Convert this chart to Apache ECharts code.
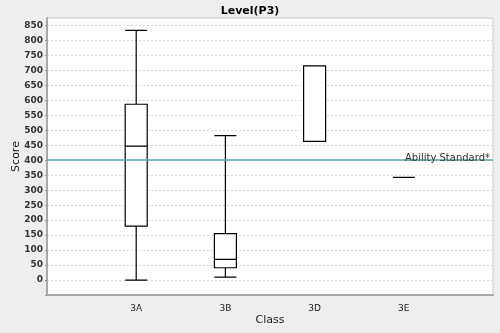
<!DOCTYPE html>
<html>
<head>
<meta charset="utf-8">
<script src="https://cdn.jsdelivr.net/npm/echarts@6/dist/echarts.min.js"></script>
<style>
  html, body { margin: 0; padding: 0; background: #eeeeee; }
  #chart { width: 500px; height: 333px; }
</style>
</head>
<body>
<div id="chart"></div>
<script>
// Classes shown on the x axis
const classes = ['3A', '3B', '3D', '3E'];
// Box statistics per class: [min, Q1, median, Q3, max]
const scoreStats = [
  [0, 180, 447, 587, 834],
  [10, 41, 69, 155, 482],
  [463, 463, 715, 715, 715],
  [343, 343, 343, 343, 343]
];
// Reference level drawn across the plot
const abilityStandard = 401;
const abilityLabel = 'Ability Standard*';

// Pad the category axis with empty slots so classes sit on inner ticks
const xCategories = [''].concat(classes, ['']);
const boxData = scoreStats.map((s, i) => [classes[i]].concat(s));

const font = 'Tahoma, "DejaVu Sans", sans-serif';
const chart = echarts.init(document.getElementById('chart'));
chart.setOption({
  backgroundColor: '#eeeeee',
  animation: false,
  title: {
    text: 'Level(P3)',
    left: 'center',
    top: 1,
    textStyle: { fontFamily: font, fontSize: 11, fontWeight: 'bold', color: '#000' }
  },
  grid: {
    left: 47, right: 7, top: 18, bottom: 38,
    outerBoundsMode: 'none',
    containLabel: false,
    show: true,
    backgroundColor: '#ffffff',
    borderColor: '#d0d0d0',
    borderWidth: 1
  },
  xAxis: {
    type: 'category',
    data: xCategories,
    boundaryGap: false,
    name: 'Class',
    nameLocation: 'middle',
    nameGap: 20,
    nameMoveOverlap: false,
    nameTextStyle: { fontFamily: font, fontSize: 11, color: '#222' },
    axisLine: { show: true, onZero: false, lineStyle: { color: '#a8a8a8', width: 2 } },
    axisTick: { show: false },
    axisLabel: { fontFamily: font, fontSize: 9, color: '#222', margin: 9 },
    splitLine: { show: false }
  },
  yAxis: {
    type: 'value',
    min: -50,
    max: 875,
    interval: 50,
    name: 'Score',
    nameLocation: 'middle',
    nameGap: 25,
    nameMoveOverlap: false,
    nameTextStyle: { fontFamily: font, fontSize: 11, color: '#222' },
    axisLine: { show: true, onZero: false, lineStyle: { color: '#a8a8a8', width: 2 } },
    axisTick: { show: true, length: 2, lineStyle: { color: '#999' } },
    axisLabel: {
      fontFamily: font, fontSize: 9, fontWeight: 'bold', color: '#333', margin: 4,
      formatter: v => (v < 0 ? '' : String(v))
    },
    splitLine: { show: true, lineStyle: { color: '#d8d8d8', type: [2, 2], width: 1 } }
  },
  series: [{
    type: 'boxplot',
    data: boxData,
    encode: { x: 0, y: [1, 2, 3, 4, 5] },
    boxWidth: [22, 22],
    itemStyle: { color: '#ffffff', borderColor: '#000000', borderWidth: 1.2 },
    markLine: {
      silent: true,
      symbol: 'none',
      lineStyle: { color: '#5aa8a8', width: 1.5, type: 'solid' },
      label: {
        show: true,
        position: 'insideEndTop',
        distance: [3, -3],
        formatter: abilityLabel,
        fontFamily: font,
        fontSize: 10,
        color: '#333'
      },
      data: [{ yAxis: abilityStandard }]
    }
  }]
});
</script>
</body>
</html>
